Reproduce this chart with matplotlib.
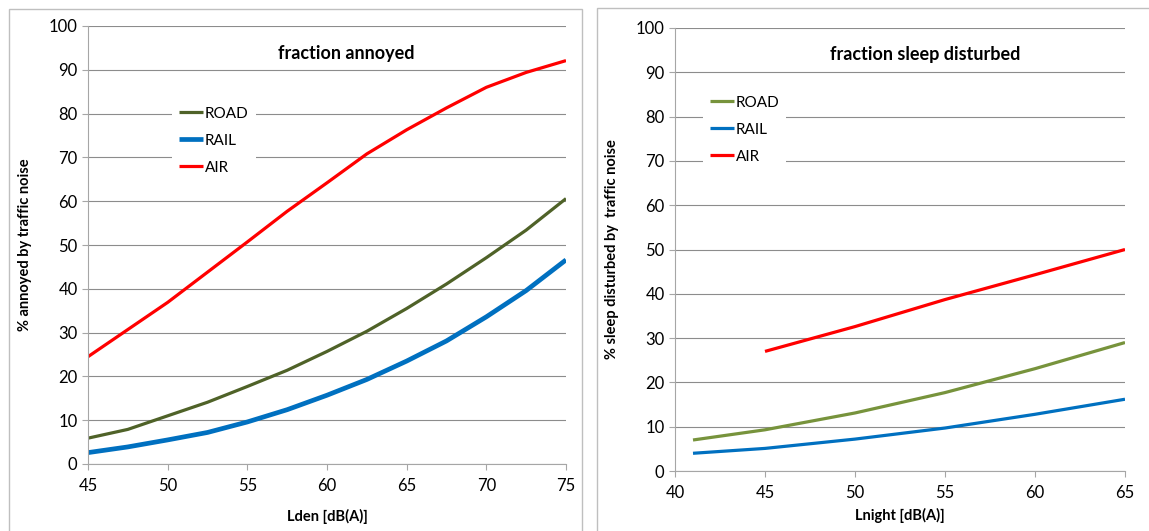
import numpy as np
import matplotlib.pyplot as plt
from matplotlib.patches import Rectangle

plt.rcParams['font.family'] = ['Lato', 'DejaVu Sans']

# fraction annoyed vs Lden
lden = [45, 47.5, 50, 52.5, 55, 57.5, 60, 62.5, 65, 67.5, 70, 72.5, 75]
annoy_road = [5.9, 7.9, 11.0, 14.1, 17.7, 21.4, 25.7, 30.3, 35.5, 41.1, 47.1, 53.4, 60.6]
annoy_rail = [2.6, 3.9, 5.5, 7.2, 9.6, 12.4, 15.7, 19.3, 23.5, 28.1, 33.6, 39.6, 46.6]
annoy_air = [24.5, 30.7, 36.9, 43.8, 50.7, 57.7, 64.2, 70.8, 76.3, 81.3, 86.0, 89.4, 92.1]

# fraction sleep disturbed vs Lnight
lnight = [41, 45, 50, 55, 60, 65]
sleep_road = [7.0, 9.3, 13.1, 17.7, 23.1, 29.0]
sleep_rail = [4.0, 5.1, 7.2, 9.7, 12.8, 16.2]
lnight_air = [45, 50, 55, 60, 65]
sleep_air = [27.0, 32.6, 38.7, 44.3, 50.0]

GRID = '#8C8C8C'
FS = 12


def style_axes(ax, xlim, xticks):
    ax.set_xlim(*xlim)
    ax.set_ylim(0, 100)
    ax.set_xticks(xticks)
    ax.set_yticks(range(0, 101, 10))
    ax.grid(axis='y', color=GRID, linewidth=0.8)
    ax.set_axisbelow(True)
    for s in ['top', 'right']:
        ax.spines[s].set_visible(False)
    for s in ['left', 'bottom']:
        ax.spines[s].set_color('#A6A6A6')
        ax.spines[s].set_linewidth(0.8)
    ax.tick_params(colors='#A6A6A6', length=4, width=0.8, labelcolor='black',
                   labelsize=FS, direction='out')
    ax.tick_params(axis='x', pad=6)


def white_legend(ax, anchor):
    leg = ax.legend(loc='upper left', bbox_to_anchor=anchor, frameon=True,
                    fontsize=11, handlelength=1.6, handletextpad=0.1,
                    labelspacing=0.85, borderpad=0.45, fancybox=False)
    leg.get_frame().set_edgecolor('none')
    leg.get_frame().set_facecolor('white')
    leg.get_frame().set_alpha(1)
    return leg


fig = plt.figure(figsize=(11.49, 5.31), dpi=100)

# panel frames
for x0, x1, y0 in [(9, 582, 9), (597, 1160, 8)]:
    fig.add_artist(Rectangle((x0 / 1149, -0.05), (x1 - x0) / 1149, 1.05 - y0 / 531,
                             transform=fig.transFigure, fill=False,
                             edgecolor='#BFBFBF', linewidth=1.0))

kw = dict(solid_joinstyle='round', solid_capstyle='butt')

ax1 = fig.add_axes([88 / 1149, 1 - 464 / 531, (566 - 88) / 1149, (464 - 26) / 531])
style_axes(ax1, (45, 75), range(45, 76, 5))
ax1.plot(lden, annoy_road, color='#4F6228', linewidth=2.3, label='ROAD', **kw)
ax1.plot(lden, annoy_rail, color='#0070C0', linewidth=3.4, label='RAIL', **kw)
ax1.plot(lden, annoy_air, color='#FF0000', linewidth=2.3, label='AIR', **kw)
ax1.set_xlabel('Lden [dB(A)]', fontsize=10.5, fontweight='bold', labelpad=11)
ax1.set_ylabel('% annoyed by traffic noise', fontsize=10.5, fontweight='bold', labelpad=12)
ax1.text(0.54, 0.938, 'fraction annoyed', transform=ax1.transAxes, ha='center',
         va='center', fontsize=13, fontweight='bold')
white_legend(ax1, (0.16, 0.849))

ax2 = fig.add_axes([675 / 1149, 1 - 471 / 531, (1125 - 675) / 1149, (471 - 28) / 531])
style_axes(ax2, (40, 65), range(40, 66, 5))
ax2.plot(lnight, sleep_road, color='#77933C', linewidth=2.3, label='ROAD', **kw)
ax2.plot(lnight, sleep_rail, color='#0070C0', linewidth=2.3, label='RAIL', **kw)
ax2.plot(lnight_air, sleep_air, color='#FF0000', linewidth=2.3, label='AIR', **kw)
ax2.set_xlabel('Lnight [dB(A)]', fontsize=10.5, fontweight='bold', labelpad=5)
ax2.set_ylabel('% sleep disturbed by  traffic noise', fontsize=10.5, fontweight='bold',
               labelpad=12)
ax2.text(0.555, 0.94, 'fraction sleep disturbed', transform=ax2.transAxes,
         ha='center', va='center', fontsize=13, fontweight='bold')
white_legend(ax2, (0.045, 0.88))

fig.savefig('out.png', dpi=100)
